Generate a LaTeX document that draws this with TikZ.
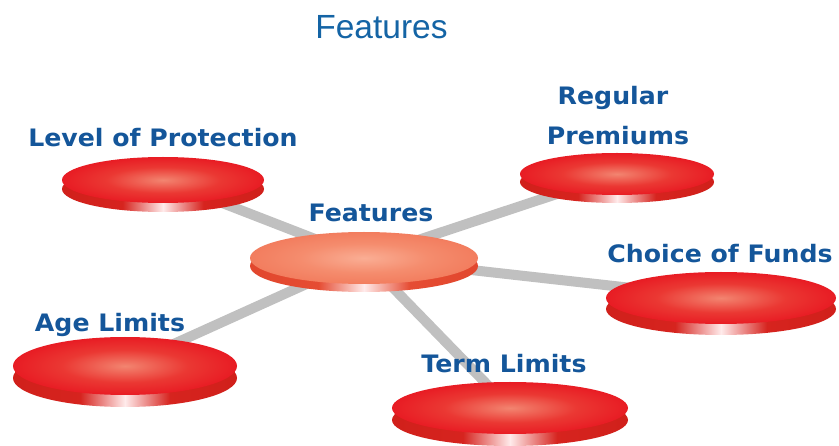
\documentclass[tikz,border=0pt]{standalone}
\usepackage{fontspec}
\setmainfont{DejaVu Sans}
\newfontfamily\titlefont{Liberation Sans}
\newfontfamily\lblfont[FakeStretch=1.05]{DejaVu Sans Bold}
\usetikzlibrary{shapes.geometric}
\definecolor{labelblue}{RGB}{20,86,154}
\definecolor{titleblue}{RGB}{20,100,165}
\definecolor{rodgray}{RGB}{192,192,192}
\pgfdeclareradialshading{redtop}{\pgfpoint{0bp}{0bp}}{rgb(0bp)=(0.95,0.52,0.44); rgb(14bp)=(0.92,0.22,0.20); rgb(25bp)=(0.91,0.11,0.14); rgb(50bp)=(0.91,0.11,0.14)}
\pgfdeclareradialshading{salmontop}{\pgfpoint{0bp}{0bp}}{rgb(0bp)=(0.98,0.68,0.58); rgb(14bp)=(0.96,0.55,0.43); rgb(25bp)=(0.95,0.49,0.37); rgb(50bp)=(0.95,0.49,0.37)}
\pgfdeclarehorizontalshading{redside}{100bp}{rgb(0bp)=(0.78,0.10,0.08); rgb(40bp)=(0.84,0.14,0.12); rgb(50bp)=(1,0.92,0.92); rgb(60bp)=(0.84,0.14,0.12); rgb(100bp)=(0.78,0.10,0.08)}
\pgfdeclarehorizontalshading{salmonside}{100bp}{rgb(0bp)=(0.86,0.24,0.14); rgb(40bp)=(0.90,0.30,0.20); rgb(50bp)=(1,0.92,0.92); rgb(60bp)=(0.90,0.30,0.20); rgb(100bp)=(0.86,0.24,0.14)}
\tikzset{
  disctop/.style={ellipse, inner sep=0pt, outer sep=0pt, shade, shading=redtop},
  discside/.style={ellipse, inner sep=0pt, outer sep=0pt, shade, shading=redside},
  hubtop/.style={ellipse, inner sep=0pt, outer sep=0pt, shade, shading=salmontop},
  hubside/.style={ellipse, inner sep=0pt, outer sep=0pt, shade, shading=salmonside},
  rod/.style={line width=10pt, draw=rodgray},
  lbl/.style={text=labelblue, font=\lblfont\fontsize{24}{28}\selectfont, anchor=base, inner sep=0pt},
}
\begin{document}
\begin{tikzpicture}[x=1pt,y=-1pt]
\useasboundingbox (0,0) rectangle (839,446);
\fill[white] (0,0) rectangle (839,446);
% title
\node[text=titleblue, font=\titlefont\fontsize{33.5}{38}\selectfont, anchor=base, inner sep=0pt] (title) at (381.5,39) {Features};
% centres
\coordinate (c) at (364,258);
\coordinate (lop) at (163,180);
\coordinate (rp) at (617,174);
\coordinate (cof) at (721,298);
\coordinate (age) at (125,366);
\coordinate (term) at (510,408);
% rods
\draw[rod] (c) -- (lop);
\draw[rod] (c) -- (rp);
\draw[rod] (c) -- (cof);
\draw[rod] (c) -- (age);
\draw[rod] (c) -- (term);
% discs
\node[discside, minimum width=202pt, minimum height=46pt] (lops) at (163,189) {};
\node[disctop, minimum width=202pt, minimum height=46pt] (lopt) at (lop) {};
\node[discside, minimum width=194pt, minimum height=42pt] (rps) at (617,182) {};
\node[disctop, minimum width=194pt, minimum height=42pt] (rpt) at (rp) {};
\node[discside, minimum width=230pt, minimum height=52pt] (cofs) at (721,309) {};
\node[disctop, minimum width=230pt, minimum height=52pt] (coft) at (cof) {};
\node[discside, minimum width=224pt, minimum height=58pt] (ages) at (125,378) {};
\node[disctop, minimum width=224pt, minimum height=58pt] (aget) at (age) {};
\node[discside, minimum width=236pt, minimum height=52pt] (terms) at (510,420) {};
\node[disctop, minimum width=236pt, minimum height=52pt] (termt) at (term) {};
\node[hubside, minimum width=228pt, minimum height=52pt] (hubs) at (364,266) {};
\node[hubtop, minimum width=228pt, minimum height=52pt] (hubt) at (c) {};
% labels
\node[lbl] (llop) at (163,147) {Level of Protection};
\node[lbl] (lrp1) at (613,105) {Regular};
\node[lbl] (lrp2) at (618,145) {Premiums};
\node[lbl] (lhub) at (371,222) {Features};
\node[lbl] (lcof) at (720,263) {Choice of Funds};
\node[lbl] (lage) at (110,332) {Age Limits};
\node[lbl] (lterm) at (504,373) {Term Limits};
\end{tikzpicture}
\end{document}
